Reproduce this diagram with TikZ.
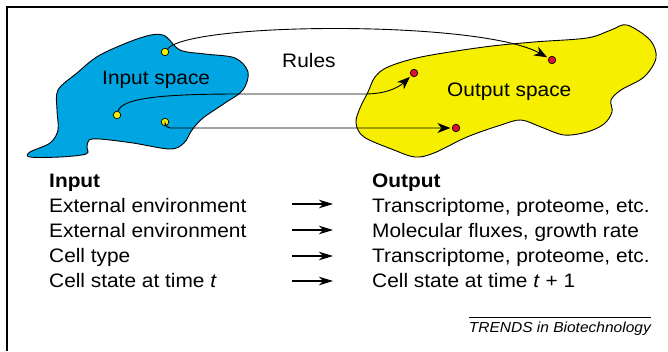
\documentclass[tikz,border=0pt]{standalone}
\usepackage{fontspec}
\setmainfont{Liberation Sans}[FakeStretch=1.07]
\usepackage{tikz}
\usetikzlibrary{arrows.meta,backgrounds,calc}

\definecolor{inblue}{RGB}{0,166,226}
\definecolor{outyellow}{RGB}{246,240,0}
\definecolor{dotred}{RGB}{222,16,52}

\begin{document}
\begin{tikzpicture}[x=1pt,y=-1pt,
  font=\fontsize{19.5}{23}\selectfont,
  blob/.style={draw=black,line width=0.9pt},
  indot/.style={circle,draw=black,fill=outyellow,line width=0.7pt,inner sep=0pt,minimum size=7.5pt},
  outdot/.style={indot,fill=dotred},
  rule/.style={-{Stealth[length=13pt,width=10pt,inset=4pt]},line width=0.9pt,shorten >=1.5pt},
  maparrow/.style={-{Stealth[length=14pt,width=8.5pt,inset=4pt]},line width=1.1pt},
  txt/.style={anchor=base west,inner sep=0pt}]
\useasboundingbox (0,0) rectangle (668,351);
\draw[line width=1.3pt] (7,351) -- (7,7) -- (668,7);

% the two spaces
\draw[blob,fill=inblue] plot[smooth cycle,tension=0.55] coordinates {
  (163,35) (180,50) (205,54) (235,58) (248,72) (243,90) (225,103) (203,118)
  (192,130) (184,143) (170,149) (133,143) (100,139) (89,140) (87,147) (86,154)
  (60,157) (30,157) (30,152) (50,143) (58,130) (57,110) (58,90) (77,73)
  (100,55) (140,38)};
\draw[blob,fill=outyellow] plot[smooth cycle,tension=0.55] coordinates {
  (627,25) (650,40) (656,58) (644,77) (621,90) (611,100) (612,112) (604,124)
  (587,132) (564,135) (541,127) (521,120) (501,125) (467,137) (434,153) (415,157)
  (394,150) (364,137) (356,123) (360,108) (368,92) (375,77) (388,67) (421,57)
  (484,47) (534,42) (587,38) (611,30)};

\node[txt] (inlbl) at (102,84) {Input space};
\node[txt] (outlbl) at (447,96) {Output space};
\node[txt] (rules) at (282,67) {Rules};

\node[indot] (y1) at (165,52) {};
\node[indot] (y2) at (117,115) {};
\node[indot] (y3) at (165,122) {};
\node[outdot] (r1) at (552,60) {};
\node[outdot] (r2) at (414,73) {};
\node[outdot] (r3) at (456,128) {};

\draw[rule] (y1) .. controls (190,22) and (480,20) .. (r1);
\draw[rule] (y2) .. controls (122,97) and (170,94) .. (240,94) -- (365,94)
  .. controls (385,94) and (398,88) .. (r2);
\draw[rule,rounded corners=5pt] (y3) |- (r3);

% table
\node[txt] (inhead) at (49,187) {\textbf{Input}};
\node[txt] (in1) at (49,212) {External environment};
\node[txt] (in2) at (49,237) {External environment};
\node[txt] (in3) at (49,262) {Cell type};
\node[txt] (in4) at (49,287) {Cell state at time \textit{t}};

\node[txt] (outhead) at (372,187) {\textbf{Output}};
\node[txt] (out1) at (372,212) {Transcriptome, proteome, etc.};
\node[txt] (out2) at (372,237) {Molecular fluxes, growth rate};
\node[txt] (out3) at (372,262) {Transcriptome, proteome, etc.};
\node[txt] (out4) at (372,287) {Cell state at time \textit{t} + 1};

\coordinate (s1) at (292,204); \coordinate (e1) at (333,204);
\coordinate (s2) at (292,230); \coordinate (e2) at (333,230);
\coordinate (s3) at (292,256); \coordinate (e3) at (333,256);
\coordinate (s4) at (292,281); \coordinate (e4) at (333,281);
\draw[maparrow] (s1) -- (e1);
\draw[maparrow] (s2) -- (e2);
\draw[maparrow] (s3) -- (e3);
\draw[maparrow] (s4) -- (e4);

\node[txt,anchor=base east,font=\fontsize{14.5}{17}\selectfont\itshape] (trends) at (651,332) {TRENDS in Biotechnology};
\coordinate (ovl) at (0,317);
\draw[line width=0.6pt] (trends.west |- ovl) -- (trends.east |- ovl);
\end{tikzpicture}
\end{document}
